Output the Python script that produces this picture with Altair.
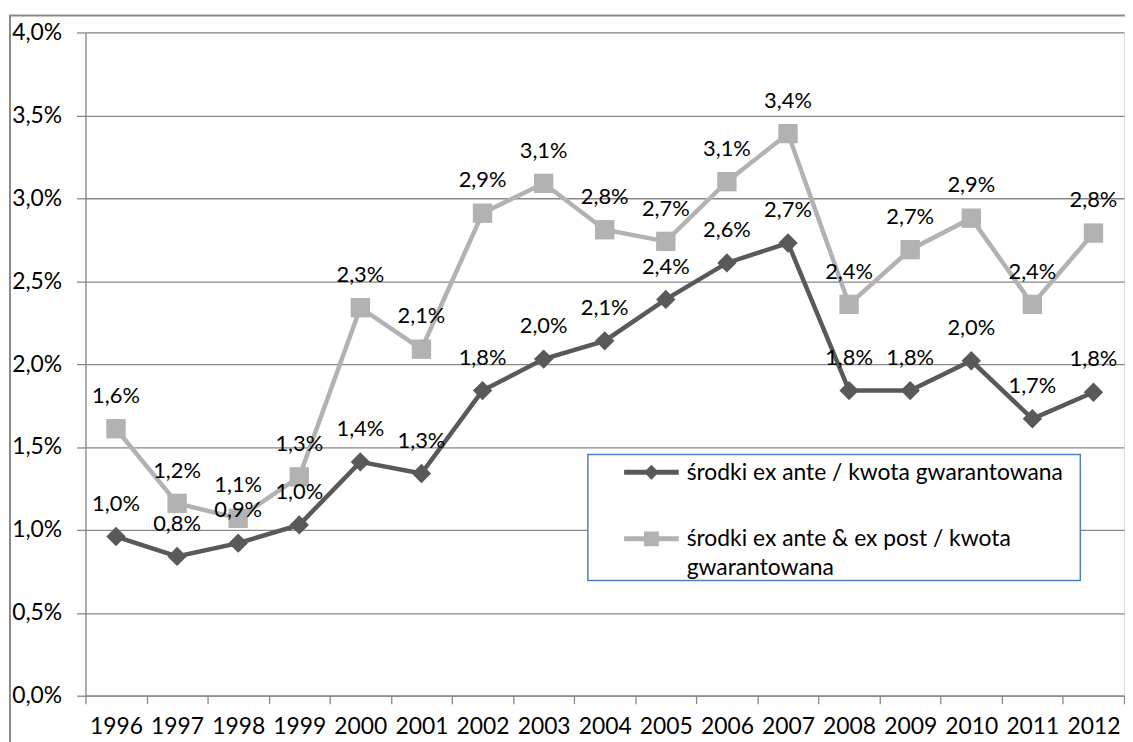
import altair as alt
import pandas as pd

FONT = "Lato"
FS = 23
FS_LABEL = 22

years = [str(y) for y in range(1996, 2013)]
series_names = [
    "środki ex ante / kwota gwarantowana",
    "środki ex ante & ex post / kwota gwarantowana",
]
ex_ante = [0.96, 0.84, 0.92, 1.03, 1.41, 1.34, 1.84, 2.03, 2.14, 2.39, 2.61, 2.73,
           1.84, 1.84, 2.02, 1.67, 1.83]
ex_ante_post = [1.61, 1.16, 1.07, 1.32, 2.34, 2.09, 2.91, 3.09, 2.81, 2.74, 3.10, 3.39,
                2.36, 2.69, 2.88, 2.36, 2.79]
y_ticks = [0.0, 0.5, 1.0, 1.5, 2.0, 2.5, 3.0, 3.5, 4.0]
colors = ["#595959", "#B2B2B2"]
shapes = ["diamond", "square"]

rows = []
for name, vals, shp in zip(series_names, [ex_ante, ex_ante_post], shapes):
    for yr, v in zip(years, vals):
        rows.append({"year": yr, "series": name, "value": v, "marker": shp,
                     "label": f"{v:.1f}".replace(".", ",") + "%"})
df = pd.DataFrame(rows)

GRID = "#878787"

# legend symbols: line segment with marker (custom paths, 1 unit = 7.5px, shifted down)
def sym_path(pts):
    return "M" + "L".join(f"{x:.3f},{y + 1.4:.3f}" for x, y in pts) + "Z"

DIAMOND_PATH = sym_path([(-3.667, -0.333), (-0.667, -0.333), (0, -1), (0.667, -0.333),
                         (3.667, -0.333), (3.667, 0.333), (0.667, 0.333), (0, 1),
                         (-0.667, 0.333), (-3.667, 0.333)])
SQUARE_PATH = sym_path([(-3.667, -0.333), (-1, -0.333), (-1, -1), (1, -1), (1, -0.333),
                        (3.667, -0.333), (3.667, 0.333), (1, 0.333), (1, 1), (-1, 1),
                        (-1, 0.333), (-3.667, 0.333)])

legend = alt.Legend(
    title=None,
    orient="none",
    legendX=541,
    legendY=421,
    padding=0,
    zindex=5,
    labelFont=FONT,
    labelFontSize=FS,
    labelColor="black",
    labelBaseline="top",
    symbolSize=225,
    symbolOffset=17.5,
    symbolStrokeWidth=0,
    symbolOpacity=1,
    symbolType=alt.ExprRef(
        expr="datum.value == '" + series_names[0] + "' ? '" + DIAMOND_PATH + "' : '" + SQUARE_PATH + "'"
    ),
    labelOffset=24,
    rowPadding=32,
    labelLimit=700,
    labelExpr="datum.label == '" + series_names[1]
    + "' ? ['środki ex ante & ex post / kwota', 'gwarantowana'] : datum.label",
)

x_enc = alt.X(
    "year:O",
    sort=years,
    scale=alt.Scale(type="band", paddingInner=0, paddingOuter=0),
    bandPosition=0.5,
    axis=alt.Axis(
        title=None, labelAngle=0, tickBand="extent", grid=False,
        domainColor=GRID, domainWidth=1.3, tickColor=GRID, tickWidth=1.3, tickSize=8,
        labelPadding=12, labelFont=FONT, labelFontSize=FS, labelColor="black",
    ),
)
y_enc = alt.Y(
    "value:Q",
    scale=alt.Scale(domain=[0, 4], nice=False, zero=True),
    axis=alt.Axis(
        title=None, values=y_ticks,
        labelExpr="replace(format(datum.value, '.1f'), '.', ',') + '%'",
        grid=True, gridColor=GRID, gridWidth=1.3,
        domainColor=GRID, domainWidth=1.3, tickColor=GRID, tickWidth=1.3, tickSize=9,
        labelPadding=15, labelFont=FONT, labelFontSize=FS, labelColor="black",
    ),
)
color_scale = alt.Scale(domain=series_names, range=colors)

one = pd.DataFrame({"k": [0]})
border = alt.Chart(one).mark_rect(fill="transparent", stroke="#898989", strokeWidth=2).encode(
    x=alt.value(-76), x2=alt.value(1300), y=alt.value(-17), y2=alt.value(900)
)
legend_box = alt.Chart(one).mark_rect(fill="white", stroke="#4F81BD", strokeWidth=1.5).encode(
    x=alt.value(506), x2=alt.value(1002), y=alt.value(425), y2=alt.value(552)
)

base = alt.Chart(df)
lines = [
    base.transform_filter(alt.datum.series == name)
    .mark_line(color=col, strokeWidth=4.5)
    .encode(x=x_enc, y=y_enc)
    for name, col in zip(series_names, colors)
]
points = base.mark_point(filled=True, opacity=1, size=380, strokeWidth=0).encode(
    x=x_enc, y=y_enc,
    color=alt.Color("series:N", scale=color_scale, legend=legend),
    shape=alt.Shape("marker:N", scale=None),
)
labels = base.mark_text(dy=-33, font=FONT, fontSize=FS_LABEL, color="black").encode(
    x=x_enc, y=y_enc, text="label:N",
)

chart = alt.layer(border, legend_box, *lines, points, labels).properties(
    width=1046,
    height=668,
    autosize=alt.AutoSizeParams(type="none"),
    padding={"left": 78, "top": 22, "right": 1, "bottom": 44},
).configure_view(
    stroke="transparent"
).configure(
    style={"guide-label": {"lineHeight": 29}}
)

chart.save("out.html", embed_options={"renderer": "svg", "actions": False})
